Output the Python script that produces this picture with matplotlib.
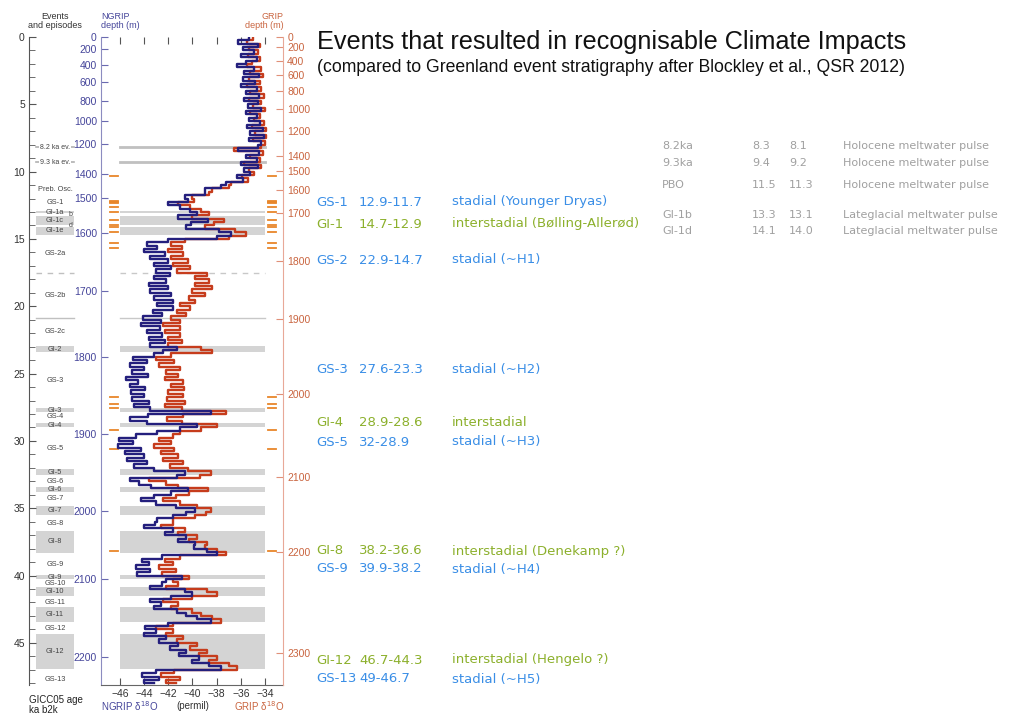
import numpy as np
import matplotlib
matplotlib.use('Agg')
import matplotlib.pyplot as plt

plt.rcParams['font.family'] = ['Liberation Sans', 'DejaVu Sans']

# ---- data -------------------------------------------------------------
# d18O (permil) every 0.25 ka, 0 - 48 ka b2k (GICC05)
ages = np.arange(0, 48.01, 0.25)

ngrip_d18o = [
    -35.3, -36.2, -34.6, -35.8, -34.9, -36.0, -34.7, -35.6,
    -36.3, -34.9, -35.7, -34.5, -35.8, -34.8, -36.0, -34.7,
    -35.6, -34.5, -35.7, -34.6, -35.4, -34.3, -35.6, -34.7,
    -35.3, -34.4, -35.5, -34.2, -35.2, -34.1, -35.3, -34.3,
    -34.6, -36.2, -34.5, -35.6, -34.7, -36.0, -34.6, -35.7,
    -35.2, -36.3, -35.8, -37.2, -37.6, -39.0, -39.0, -40.6,
    -40.4, -42.0, -41.0, -40.2, -39.6, -41.2, -38.7, -40.1,
    -40.5, -37.8, -36.8, -38.0, -42.0, -43.8, -42.9, -44.0,
    -42.3, -43.5, -42.0, -43.2, -41.8, -43.0, -41.9, -43.2,
    -42.2, -43.6, -42.0, -43.5, -41.8, -43.2, -41.6, -42.9,
    -41.6, -43.3, -42.5, -44.1, -42.6, -44.3, -42.7, -43.8,
    -42.5, -43.6, -42.3, -43.5, -41.3, -42.4, -43.2, -44.9,
    -43.8, -45.2, -44.0, -45.0, -43.7, -45.5, -44.5, -45.2,
    -43.9, -45.1, -44.0, -45.0, -43.6, -44.8, -43.5, -38.5,
    -43.7, -45.2, -43.8, -39.6, -41.0, -42.9, -44.7, -46.1,
    -44.9, -46.2, -44.3, -45.6, -44.0, -45.4, -43.8, -44.8,
    -43.2, -40.6, -41.3, -45.2, -44.4, -43.4, -40.4, -41.8,
    -43.2, -44.3, -43.0, -41.4, -39.8, -40.5, -41.6, -42.9,
    -43.1, -44.0, -41.6, -42.3, -40.5, -41.2, -39.8, -39.9,
    -38.8, -38.0, -42.5, -44.2, -43.6, -44.7, -43.5, -44.6,
    -40.9, -42.2, -42.5, -43.5, -40.6, -40.0, -41.8, -43.5,
    -42.6, -43.2, -41.3, -40.5, -39.6, -38.5, -42.0, -43.9,
    -43.0, -44.0, -42.2, -42.8, -41.2, -41.9, -40.5, -41.1,
    -39.5, -40.0, -38.6, -37.6, -43.0, -44.2, -42.8, -44.0,
    -43.2]

grip_d18o = [
    -35.0, -35.5, -34.4, -35.3, -34.6, -35.4, -34.4, -35.1,
    -35.5, -34.3, -35.2, -34.2, -35.3, -34.4, -35.5, -34.3,
    -35.2, -34.1, -35.3, -34.3, -35.0, -34.0, -35.2, -34.4,
    -34.9, -34.1, -35.1, -33.9, -34.8, -33.9, -35.0, -34.0,
    -34.3, -36.6, -34.2, -35.2, -34.4, -35.7, -34.3, -35.3,
    -34.9, -35.9, -35.4, -36.8, -37.0, -38.4, -38.6, -40.0,
    -39.9, -41.2, -40.2, -39.3, -38.6, -40.0, -37.4, -38.2,
    -39.0, -36.5, -35.6, -37.0, -40.6, -41.8, -40.9, -42.0,
    -40.8, -41.8, -40.4, -41.6, -40.2, -41.3, -38.8, -39.8,
    -38.6, -39.8, -38.4, -40.0, -39.0, -40.3, -39.8, -41.0,
    -40.2, -41.3, -40.5, -41.8, -41.0, -42.4, -41.0, -42.3,
    -41.0, -42.0, -40.9, -42.0, -39.3, -38.4, -41.8, -43.0,
    -41.5, -42.8, -41.0, -42.2, -41.2, -42.3, -40.8, -41.8,
    -40.7, -42.0, -40.8, -42.1, -40.6, -42.3, -40.9, -37.2,
    -40.8, -42.1, -40.9, -38.0, -39.3, -41.0, -41.6, -42.8,
    -41.8, -43.2, -41.5, -42.6, -41.2, -42.4, -40.8, -41.9,
    -40.4, -38.5, -39.4, -43.6, -42.2, -41.2, -38.7, -40.3,
    -41.4, -42.4, -41.0, -39.6, -38.5, -38.9, -39.8, -41.6,
    -41.6, -42.6, -40.6, -41.2, -39.6, -40.3, -38.8, -39.0,
    -38.0, -37.2, -41.0, -42.3, -41.6, -42.8, -41.4, -42.5,
    -40.3, -41.6, -41.2, -42.2, -38.8, -38.0, -40.0, -42.4,
    -41.2, -41.8, -40.0, -39.3, -38.4, -37.6, -41.6, -43.0,
    -41.6, -42.2, -40.8, -41.3, -39.6, -40.2, -38.8, -39.5,
    -38.0, -38.6, -37.0, -36.3, -41.5, -42.6, -41.0, -42.2,
    -41.4]

# depth scales (m) and the ages where they sit
ngrip_depth = [0, 200, 400, 600, 800, 1000, 1200, 1400, 1500, 1600, 1700,
               1800, 1900, 2000, 2100, 2200]
ngrip_depth_age = [0, 0.91, 2.05, 3.31, 4.77, 6.24, 7.97, 10.19, 11.95,
                   14.55, 18.86, 23.76, 29.52, 35.21, 40.26, 46.03]
grip_depth = [0, 200, 400, 600, 800, 1000, 1200, 1400, 1500, 1600, 1700,
              1800, 1900, 2000, 2100, 2200, 2300]
grip_depth_age = [0, 0.76, 1.75, 2.82, 4.01, 5.37, 7.0, 8.86, 9.97, 11.33,
                  13.07, 16.63, 20.94, 26.48, 32.67, 38.28, 45.73]

# interstadials (grey bands), ka b2k
gi_names = ['GI-1a', 'GI-1c', 'GI-1e', 'GI-2', 'GI-3', 'GI-4', 'GI-5',
            'GI-6', 'GI-7', 'GI-8', 'GI-9', 'GI-10', 'GI-11', 'GI-12']
gi_start = [12.92, 13.31, 14.08, 22.95, 27.59, 28.66, 32.1, 33.4, 34.84,
            36.67, 39.99, 40.87, 42.33, 44.37]
gi_end = [13.1, 13.97, 14.72, 23.42, 27.86, 28.98, 32.56, 33.83, 35.53,
          38.3, 40.26, 41.54, 43.45, 46.96]

gs_names = ['Preb. Osc.', 'GS-1', 'GS-2a', 'GS-2b', 'GS-2c', 'GS-3', 'GS-4',
            'GS-5', 'GS-6', 'GS-7', 'GS-8', 'GS-9', 'GS-10', 'GS-11',
            'GS-12', 'GS-13']
gs_age = [11.3, 12.27, 16.1, 19.2, 21.9, 25.5, 28.2, 30.55, 33.0, 34.3,
          36.1, 39.15, 40.6, 42.0, 43.9, 47.7]

ka_events = ['8.2 ka ev.', '9.3 ka ev.']
ka_event_age = [8.19, 9.3]
gs2_split_dashed = 17.5
gs2_split_solid = 20.9

# tephra / marker horizons (orange dashes)
marker_age = [10.3, 12.17, 12.25, 12.33, 12.64, 12.99, 13.58, 14.0, 14.12,
              14.47, 15.29, 15.66, 26.77, 27.24, 27.59, 29.17, 30.6, 38.2]

# text table on the right
ev_name = ['GS-1', 'GI-1', 'GS-2', 'GS-3', 'GI-4', 'GS-5', 'GI-8', 'GS-9',
           'GI-12', 'GS-13']
ev_range = ['12.9-11.7', '14.7-12.9', '22.9-14.7', '27.6-23.3', '28.9-28.6',
            '32-28.9', '38.2-36.6', '39.9-38.2', '46.7-44.3', '49-46.7']
ev_desc = ['stadial (Younger Dryas)', 'interstadial (Bølling-Allerød)',
           'stadial (~H1)', 'stadial (~H2)', 'interstadial', 'stadial (~H3)',
           'interstadial (Denekamp ?)', 'stadial (~H4)',
           'interstadial (Hengelo ?)', 'stadial (~H5)']

mw_name = ['8.2ka', '9.3ka', 'PBO', 'GI-1b', 'GI-1d']
mw_start = ['8.3', '9.4', '11.5', '13.3', '14.1']
mw_end = ['8.1', '9.2', '11.3', '13.1', '14.0']
mw_desc = ['Holocene meltwater pulse', 'Holocene meltwater pulse',
           'Holocene meltwater pulse', 'Lateglacial meltwater pulse',
           'Lateglacial meltwater pulse']

# ---- colours / layout ------------------------------------------------
NAVY = '#241f7d'
RED = '#c63c1c'
NLAB = '#45459a'
GLAB = '#c9643f'
BAND = '#d4d4d4'
ORANGE = '#e8862a'
BLUE = '#3a8ee6'
GREEN = '#8cb02c'
GREY = '#a0a0a0'

W, H = 1011, 715
def fx(px):
    return px / W
def fy(py):
    return 1 - py / H

YLIM = (48.13, 0)
fig = plt.figure(figsize=(W / 100, H / 100), dpi=100)

# age axis + events column
ax0 = fig.add_axes([fx(29), fy(685), fx(101) - fx(29), fy(37) - fy(685)])
ax0.set_xlim(0, 1)
ax0.set_ylim(*YLIM)
for s in ['top', 'right', 'bottom']:
    ax0.spines[s].set_visible(False)
ax0.spines['left'].set_color('#555555')
ax0.set_xticks([])
ax0.set_yticks(np.arange(0, 46, 5))
ax0.set_yticks(np.arange(0, 49, 1), minor=True)
ax0.tick_params(axis='y', which='both', direction='in', color='#555555',
                labelsize=7.5, labelcolor='#333333', pad=3)
ax0.tick_params(axis='y', which='major', length=5)
ax0.tick_params(axis='y', which='minor', length=4)

bx0, bx1 = 0.097, 0.625
for a0, a1, nm in zip(gi_start, gi_end, gi_names):
    ax0.fill_between([bx0, bx1], a0, a1, color=BAND, lw=0)
    ax0.text(0.36, (a0 + a1) / 2, nm, ha='center', va='center', fontsize=5.3,
             color='#444444')
ax0.text(0.55, 13.22, 'b', fontsize=5, color='#444444', va='center')
ax0.text(0.55, 14.03, 'd', fontsize=5, color='#444444', va='center')
for nm, a in zip(gs_names, gs_age):
    ax0.text(0.36, a, nm, ha='center', va='center', fontsize=5.3,
             color='#444444')
for nm, a in zip(ka_events, ka_event_age):
    ax0.plot([bx0, bx1], [a, a], color='#b0b0b0', lw=1.2)
    ax0.text(0.36, a, nm, ha='center', va='center', fontsize=5, color='#444444',
             bbox=dict(facecolor='white', edgecolor='none', pad=0.6))
ax0.plot([bx0, bx1], [gs2_split_dashed] * 2, color='#c0c0c0', lw=1, ls=(0, (4, 4)))
ax0.plot([bx0, bx1], [gs2_split_solid] * 2, color='#c0c0c0', lw=1)

# main isotope panel
ax = fig.add_axes([fx(101), fy(685), fx(283) - fx(101), fy(37) - fy(685)])
ax.set_xlim(-47.57, -32.51)
ax.set_ylim(*YLIM)

for a0, a1 in zip(gi_start, gi_end):
    ax.fill_betweenx([a0, a1], -46, -34, color=BAND, lw=0, zorder=0)
for a in ka_event_age:
    ax.plot([-46, -34], [a, a], color='#c0c0c0', lw=2, zorder=0)
ax.plot([-46, -34], [gs2_split_dashed] * 2, color='#c8c8c8', lw=1,
        ls=(0, (4, 4)), zorder=0)
ax.plot([-46, -34], [gs2_split_solid] * 2, color='#c8c8c8', lw=1, zorder=0)

for a in marker_age:
    ax.plot([-46.85, -46.15], [a, a], color=ORANGE, lw=1.3, zorder=1)
    ax.plot([-33.75, -33.05], [a, a], color=ORANGE, lw=1.3, zorder=1)

ax.plot(grip_d18o, ages, drawstyle='steps-pre', color=RED, lw=1.7, zorder=2)
ax.plot(ngrip_d18o, ages, drawstyle='steps-pre', color=NAVY, lw=1.7, zorder=3)

ax.set_xticks(np.arange(-46, -33, 2))
ax.tick_params(axis='x', direction='in', top=True, length=5, color='#555555',
               labelsize=7.5, labelcolor='#333333', pad=3)
ax.spines['top'].set_visible(False)
ax.spines['right'].set_visible(False)
ax.spines['bottom'].set_color('#666666')
ax.spines['left'].set_color('#8c8cc0')
ax.set_yticks(ngrip_depth_age)
ax.set_yticklabels([str(d) for d in ngrip_depth])
ax.tick_params(axis='y', direction='in', length=5, color='#6a6ab0',
               labelsize=7.5, labelcolor=NLAB, pad=3)

ax2 = ax.twinx()
ax2.set_ylim(*YLIM)
for s in ['top', 'left', 'bottom']:
    ax2.spines[s].set_visible(False)
ax2.spines['right'].set_color('#e8a898')
ax2.set_yticks(grip_depth_age)
ax2.set_yticklabels([str(d) for d in grip_depth])
ax2.tick_params(axis='y', direction='in', length=5, color='#e09078',
                labelsize=7.5, labelcolor=GLAB, pad=3)

# panel labels
fig.text(fx(55), fy(21), 'Events\nand episodes', ha='center', va='center',
         fontsize=6.5, color='#333333', linespacing=1.1)
fig.text(fx(101), fy(21), 'NGRIP\ndepth (m)', ha='left', va='center',
         fontsize=6.5, color=NLAB, linespacing=1.1)
fig.text(fx(284), fy(21), 'GRIP\ndepth (m)', ha='right', va='center',
         fontsize=6.5, color=GLAB, linespacing=1.1)
fig.text(fx(29), fy(705), 'GICC05 age\nka b2k', ha='left', va='center',
         fontsize=7, color='#222222', linespacing=1.1)
fig.text(fx(101), fy(706), r'NGRIP δ$^{18}$O', ha='left', va='center',
         fontsize=7, color=NLAB)
fig.text(fx(193), fy(706), '(permil)', ha='center', va='center',
         fontsize=7, color='#333333')
fig.text(fx(284), fy(706), r'GRIP δ$^{18}$O', ha='right', va='center',
         fontsize=7, color=GLAB)

# titles
fig.text(fx(317), fy(42), 'Events that resulted in recognisable Climate Impacts',
         ha='left', va='center', fontsize=18.2, color='#111111')
fig.text(fx(317), fy(67),
         '(compared to Greenland event stratigraphy after Blockley et al., QSR 2012)',
         ha='left', va='center', fontsize=12.7, color='#111111')

# event list
ev_y = [202, 224, 260, 369, 423, 442, 551, 569, 660, 679]
for nm, rg, ds, y in zip(ev_name, ev_range, ev_desc, ev_y):
    c = GREEN if nm.startswith('GI') else BLUE
    for x, t in [(316, nm), (359, rg), (452, ds)]:
        fig.text(fx(x), fy(y), t, ha='left', va='center', fontsize=9.5,
                 color=c, family='DejaVu Sans')

mw_y = [146, 163, 185, 215, 231]
for nm, a, b, ds, y in zip(mw_name, mw_start, mw_end, mw_desc, mw_y):
    for x, t in [(662, nm), (752, a), (789, b), (843, ds)]:
        fig.text(fx(x), fy(y), t, ha='left', va='center', fontsize=8,
                 color=GREY, family='DejaVu Sans')

fig.savefig('out.png', dpi=100)
